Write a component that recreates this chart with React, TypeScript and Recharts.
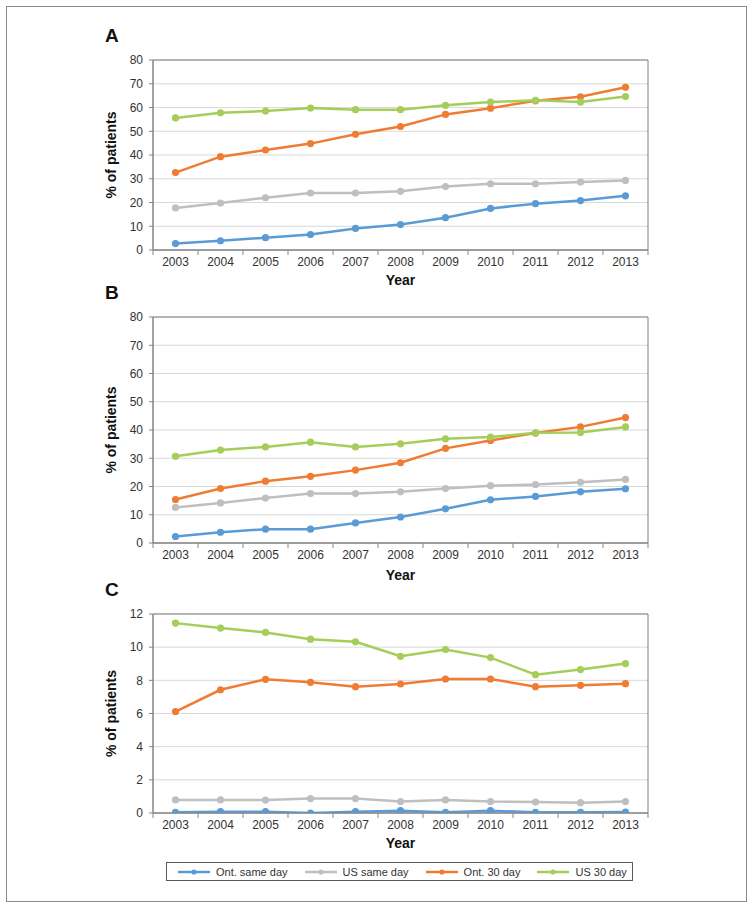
import React from "react";
import { Legend, Line, LineChart, ReferenceArea, CartesianGrid, XAxis, YAxis } from "recharts";

const years = ["2003", "2004", "2005", "2006", "2007", "2008", "2009", "2010", "2011", "2012", "2013"];

// Panel A
const aOntSame = [2.7, 3.9, 5.2, 6.5, 9.1, 10.7, 13.6, 17.5, 19.5, 20.8, 22.8];
const aUsSame = [17.7, 19.8, 22.0, 24.0, 24.0, 24.7, 26.7, 27.9, 27.9, 28.6, 29.3];
const aOnt30 = [32.6, 39.3, 42.1, 44.8, 48.7, 52.0, 57.1, 59.7, 62.8, 64.5, 68.5];
const aUs30 = [55.6, 57.8, 58.5, 59.8, 59.1, 59.1, 60.9, 62.3, 63.0, 62.3, 64.6];

// Panel B
const bOntSame = [2.3, 3.8, 4.9, 4.9, 7.1, 9.2, 12.1, 15.3, 16.5, 18.1, 19.2];
const bUsSame = [12.6, 14.2, 15.9, 17.5, 17.5, 18.1, 19.3, 20.3, 20.7, 21.5, 22.5];
const bOnt30 = [15.4, 19.3, 21.9, 23.6, 25.8, 28.4, 33.5, 36.3, 38.9, 41.1, 44.4];
const bUs30 = [30.7, 32.9, 34.0, 35.7, 34.0, 35.1, 36.9, 37.5, 39.0, 39.1, 41.1];

// Panel C
const cOntSame = [0.04, 0.08, 0.08, 0.0, 0.08, 0.14, 0.04, 0.14, 0.04, 0.04, 0.06];
const cUsSame = [0.79, 0.79, 0.78, 0.87, 0.87, 0.69, 0.79, 0.69, 0.66, 0.62, 0.69];
const cOnt30 = [6.12, 7.43, 8.06, 7.88, 7.62, 7.78, 8.08, 8.08, 7.62, 7.7, 7.8];
const cUs30 = [11.45, 11.15, 10.89, 10.48, 10.32, 9.45, 9.86, 9.37, 8.34, 8.65, 9.01];

const seriesNames = ["Ont. same day", "US same day", "Ont. 30 day", "US 30 day"];
const colors = ["#5b9bd5", "#bfbfbf", "#f07c33", "#a5cd5a"];
const keys = ["ontSame", "usSame", "ont30", "us30"];

const FONT = "'Liberation Sans', Arial, Helvetica, sans-serif";

function buildRows(s: number[][]) {
  return years.map((y, i) => ({
    idx: i,
    year: y,
    ontSame: s[0][i],
    usSame: s[1][i],
    ont30: s[2][i],
    us30: s[3][i],
  }));
}

const xTicks: number[] = [];
for (let i = -0.5; i <= 10.5; i += 0.5) xTicks.push(i);

function XTick(props: any) {
  const { x, y, payload } = props;
  const v = payload.value;
  if (Number.isInteger(v)) {
    return (
      <text x={x} y={y + 7} dy="0.71em" textAnchor="middle" fontSize={12} fill="#333" fontFamily={FONT}>
        {years[v]}
      </text>
    );
  }
  return <line x1={x} x2={x} y1={y} y2={y + 5} stroke="#868686" strokeWidth={1} />;
}

function LegendBox() {
  return (
    <div
      style={{
        width: 467,
        height: 19,
        boxSizing: "border-box",
        border: "1px solid #595959",
        display: "flex",
        alignItems: "center",
        paddingLeft: 11,
        fontFamily: FONT,
        fontSize: 11,
        color: "#333",
        background: "#fff",
      }}
    >
      {seriesNames.map((n, i) => (
        <div key={n} style={{ display: "flex", alignItems: "center", marginRight: i === 3 ? 0 : 17 }}>
          <svg width={32} height={8} style={{ marginRight: 6 }}>
            <line x1={0} x2={32} y1={4} y2={4} stroke={colors[i]} strokeWidth={2.5} />
            <circle cx={16} cy={4} r={2.6} fill={colors[i]} />
          </svg>
          <span>{n}</span>
        </div>
      ))}
    </div>
  );
}

type PanelProps = {
  letter: string;
  top: number;
  plotHeight: number;
  axisHeight: number;
  max: number;
  step: number;
  series: number[][];
  legend?: boolean;
};

function Panel({ letter, top, plotHeight, axisHeight, max, step, series, legend }: PanelProps) {
  const rows = buildRows(series);
  const yTicks: number[] = [];
  for (let v = 0; v <= max; v += step) yTicks.push(v);
  const height = 60 + plotHeight + axisHeight;
  return (
    <div style={{ position: "absolute", left: 0, top, width: 754, height }}>
      <div
        style={{
          position: "absolute",
          left: 105,
          top: 60 - 34,
          fontFamily: FONT,
          fontWeight: "bold",
          fontSize: 19,
          color: "#111",
          lineHeight: "19px",
        }}
      >
        {letter}
      </div>
      <LineChart width={754} height={height} data={rows} margin={{ top: 60, right: 106, bottom: 0, left: 0 }}>
        <CartesianGrid vertical={false} stroke="#d9d9d9" strokeWidth={1} />
        <ReferenceArea x1={-0.5} x2={10.5} y1={0} y2={max} fill="none" stroke="#7f7f7f" strokeWidth={1} />
        <XAxis
          dataKey="idx"
          type="number"
          domain={[-0.5, 10.5]}
          ticks={xTicks}
          interval={0}
          tick={<XTick />}
          tickLine={false}
          tickSize={0}
          tickMargin={0}
          height={axisHeight}
          stroke="#868686"
          label={{ value: "Year", position: "center", fontSize: 14, fontWeight: "bold", fill: "#111", fontFamily: FONT }}
        />
        <YAxis
          type="number"
          domain={[0, max]}
          ticks={yTicks}
          interval={0}
          width={153}
          tickSize={4}
          tickMargin={6}
          stroke="#868686"
          tick={{ fontSize: 12, fill: "#333", fontFamily: FONT }}
          allowDataOverflow
          label={{
            value: "% of patients",
            angle: -90,
            position: "center",
            dx: 35,
            fontSize: 14,
            fontWeight: "bold",
            fill: "#111",
            fontFamily: FONT,
          }}
        />
        {keys.map((k, i) => (
          <Line
            key={k}
            dataKey={k}
            name={seriesNames[i]}
            type="linear"
            stroke={colors[i]}
            strokeWidth={2.5}
            dot={{ r: 3.6, fill: colors[i], stroke: colors[i], strokeWidth: 0 }}
            isAnimationActive={false}
          />
        ))}
        {legend && (
          <Legend
            layout="horizontal"
            verticalAlign="middle"
            align="center"
            content={() => <LegendBox />}
            wrapperStyle={{ position: "absolute", left: 166, top: 308, width: 467, height: 19 }}
          />
        )}
      </LineChart>
    </div>
  );
}

export default function App() {
  return (
    <div style={{ position: "absolute", left: 0, top: 0, width: 754, height: 909, background: "#fff" }}>
      <div
        style={{
          position: "absolute",
          left: 6,
          top: 6,
          width: 741,
          height: 896,
          boxSizing: "border-box",
          border: "1.5px solid #8a8a8a",
        }}
      />
      <Panel letter="A" top={0} plotHeight={190} axisHeight={60} max={80} step={10} series={[aOntSame, aUsSame, aOnt30, aUs30]} />
      <Panel letter="B" top={257} plotHeight={226} axisHeight={64} max={80} step={10} series={[bOntSame, bUsSame, bOnt30, bUs30]} />
      <Panel
        letter="C"
        top={554}
        plotHeight={199}
        axisHeight={60}
        max={12}
        step={2}
        series={[cOntSame, cUsSame, cOnt30, cUs30]}
        legend
      />
    </div>
  );
}
